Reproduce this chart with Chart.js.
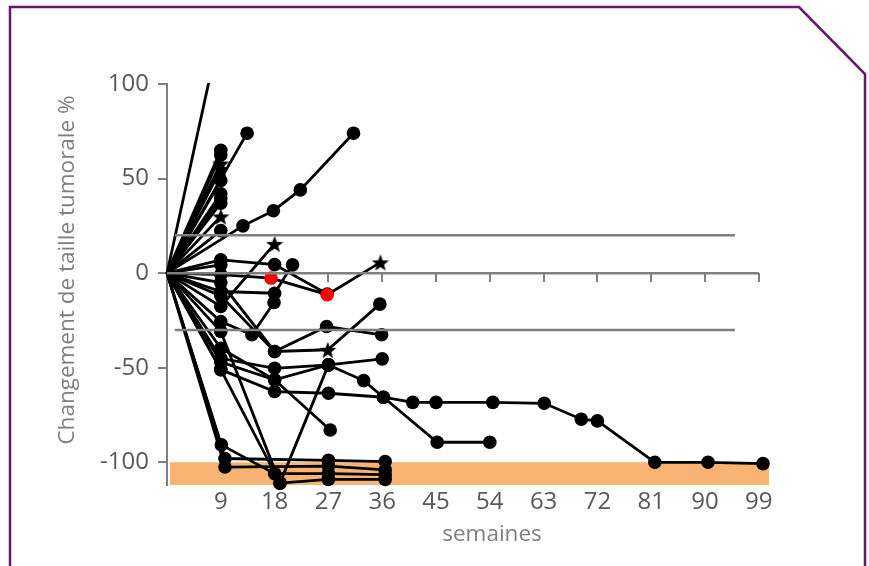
<!DOCTYPE html>
<html>
<head>
<meta charset="utf-8">
<script src="https://cdn.jsdelivr.net/npm/chart.js@4.4.0/dist/chart.umd.min.js"></script>
<style>
  html, body { margin: 0; padding: 0; background: #fff; }
  #wrap { width: 869px; height: 566px; }
</style>
</head>
<body>
<div id="wrap"><canvas id="spider"></canvas></div>
<script>
// semaines / changement de taille (%) par patient
const p01 = [[0, 0], [9, 130]];
const p02 = [[0, 0], [13.4, 74]];
const p03 = [[0, 0], [9, 65]];
const p04 = [[0, 0], [9, 62.5]];
const p05 = [[0, 0], [9, 58]];
const p06 = [[0, 0], [9, 55]];
const p07 = [[0, 0], [9, 49]];
const p08 = [[0, 0], [9, 42]];
const p09 = [[0, 0], [9, 39.5]];
const p10 = [[0, 0], [9, 37]];
const p11 = [[0, 0], [9, 30]];
const p12 = [[0, 0], [9, 22.5]];
const p13 = [[0, 0], [12.7, 25], [17.8, 33], [22.3, 44], [31.2, 74]];
const p14 = [[0, 0], [9, -17.6], [18, 15.5]];
const p15 = [[0, 0], [9, 7], [18, 4.5], [26.8, -11]];
const p16 = [[0, 0], [9, 4.4]];
const p17 = [[0, 0], [9, -0.8], [17.4, -2.6], [26.8, -11.4], [35.7, 5.7]];
const p18 = [[0, 0], [9, -9.7], [18, -10.6], [21, 4.4]];
const p19 = [[0, 0], [9, -25.6], [14.2, -32.6], [17.9, -15.5]];
const p20 = [[0, 0], [9, -5], [18, -41.4], [26.9, -40.5], [35.6, -16.4]];
const p21 = [[0, 0], [9, -12], [18, -41.4], [26.7, -28.2], [35.9, -32.6]];
const p22 = [[0, 0], [9, -30.8], [18.9, -111], [27, -48.5]];
const p23 = [[0, 0], [9, -45], [18, -50.3], [27, -48.5], [36, -45.3]];
const p24 = [[0, 0], [9, -39.7], [18, -56.4], [27.3, -82.9]];
const p25 = [[0, 0], [9, -47], [18, -56.4], [27, -48.5], [32.9, -56.8], [36.2, -65.6], [45.2, -89.4], [54, -89.4]];
const p26 = [[0, 0], [9, -51], [18, -62.6], [27, -63.5], [36.2, -65.6], [41.1, -68.3], [45, -68.3], [54.5, -68.3],
             [63.1, -68.8], [69.3, -77.2], [72, -78.1], [81.6, -100], [90.5, -100], [99.7, -100.7]];
const p27 = [[0, 0], [9, -51], [18.9, -111], [27, -109], [36.5, -109]];
const p28 = [[0, 0], [9.1, -90.8], [18, -106], [27, -106], [36.5, -106.5]];
const p29 = [[0, 0], [9.7, -98], [27, -99], [36.5, -99.6]];
const p30 = [[0, 0], [9.7, -102.5], [27, -102], [36.5, -104]];

// marqueurs particuliers (index du point dans la serie)
const starPoints = { p05: [1], p06: [1], p11: [1], p14: [2], p17: [4], p20: [3] };
const redPoints = { p17: [2, 3] };

// lignes de reference
const zeroLine = [[0, 0], [99, 0]];
const seuilProgression = [[1.3, 20], [95, 20]];
const seuilReponse = [[1.3, -30], [95, -30]];
const bandeRC = [[0.5, -100], [100.7, -100]];

const xTicks = [9, 18, 27, 36, 45, 54, 63, 72, 81, 90, 99];
const yTicks = [-100, -50, 0, 50, 100];

const patients = { p01, p02, p03, p04, p05, p06, p07, p08, p09, p10, p11, p12, p13, p14, p15,
                   p16, p17, p18, p19, p20, p21, p22, p23, p24, p25, p26, p27, p28, p29, p30 };

const toXY = arr => arr.map(([x, y]) => ({ x, y }));

function makeStar(size) {
  const c = document.createElement('canvas');
  c.width = c.height = size;
  const g = c.getContext('2d');
  g.beginPath();
  for (let i = 0; i < 10; i++) {
    const r = i % 2 ? size * 0.21 : size / 2;
    const a = -Math.PI / 2 + i * Math.PI / 5;
    const px = size / 2 + r * Math.cos(a);
    const py = size / 2 + 1 + r * Math.sin(a);
    i ? g.lineTo(px, py) : g.moveTo(px, py);
  }
  g.closePath();
  g.fillStyle = '#000';
  g.fill();
  return c;
}
const star = makeStar(18);

const gris = '#7f7f7f';

const datasets = Object.keys(patients).map(name => {
  const stars = starPoints[name] || [];
  const reds = redPoints[name] || [];
  return {
    label: name,
    data: toXY(patients[name]),
    showLine: true,
    borderColor: '#000',
    borderWidth: 2.8,
    backgroundColor: '#000',
    pointStyle: ctx => stars.includes(ctx.dataIndex) ? star : 'circle',
    pointRadius: ctx => ctx.dataIndex === 0 ? 0 : (stars.includes(ctx.dataIndex) ? 9 : 6.8),
    pointBackgroundColor: ctx => reds.includes(ctx.dataIndex) ? '#ff0000' : '#000',
    pointBorderColor: ctx => reds.includes(ctx.dataIndex) ? '#ff0000' : '#000',
    pointBorderWidth: 0,
    clip: name === 'p01' ? 1 : 10,
    order: reds.length ? 1 : 2
  };
});

const refLine = data => ({
  data: toXY(data),
  showLine: true,
  borderColor: gris,
  borderWidth: 2.5,
  pointRadius: 0,
  order: 0
});

datasets.push(refLine(zeroLine), refLine(seuilProgression), refLine(seuilReponse));
datasets.push({
  data: toXY(bandeRC),
  showLine: true,
  borderWidth: 0,
  pointRadius: 0,
  backgroundColor: '#f8b373',
  fill: 'start',
  order: 10
});

// cadre violet et titres des axes
const decor = {
  id: 'decor',
  beforeDraw(chart) {
    const ctx = chart.ctx;
    ctx.save();
    ctx.fillStyle = '#fff';
    ctx.fillRect(0, 0, chart.width, chart.height);
    ctx.strokeStyle = '#6a1470';
    ctx.lineWidth = 2.5;
    ctx.beginPath();
    ctx.moveTo(10, 570);
    ctx.lineTo(10, 7);
    ctx.lineTo(799, 7);
    ctx.lineTo(865, 74);
    ctx.lineTo(865, 570);
    ctx.stroke();
    ctx.restore();
  },
  afterDraw(chart) {
    const ctx = chart.ctx;
    ctx.save();
    ctx.fillStyle = gris;
    ctx.font = '22.5px "Open Sans"';
    ctx.textAlign = 'center';
    ctx.textBaseline = 'middle';
    ctx.fillText('semaines', 492, 535);
    ctx.translate(68, 270);
    ctx.rotate(-Math.PI / 2);
    ctx.fillText('Changement de taille tumorale %', 0, 0);
    ctx.restore();
  }
};

new Chart(document.getElementById('spider'), {
  type: 'scatter',
  data: { datasets },
  options: {
    responsive: true,
    maintainAspectRatio: false,
    animation: false,
    layout: { padding: { top: 84, right: 100, bottom: 0, left: 0 } },
    plugins: { legend: { display: false }, tooltip: { enabled: false } },
    scales: {
      x: {
        type: 'linear',
        position: 'bottom',
        min: 0,
        max: 100.7,
        afterFit: s => { s.height = 81; },
        afterBuildTicks: s => { s.ticks = xTicks.map(v => ({ value: v })); },
        border: { display: false },
        grid: { display: false, drawTicks: false },
        ticks: {
          padding: 3,
          color: '#595959',
          font: { family: 'Open Sans', size: 24 },
          maxRotation: 0,
          autoSkip: false
        }
      },
      x0: {
        type: 'linear',
        axis: 'x',
        position: { y: 0 },
        min: 0,
        max: 100.7,
        afterBuildTicks: s => { s.ticks = [0].concat(xTicks).map(v => ({ value: v })); },
        border: { display: false },
        grid: { display: true, drawOnChartArea: false, drawTicks: true, tickLength: 9, color: gris, lineWidth: 2 },
        ticks: { display: false }
      },
      y: {
        type: 'linear',
        min: -112,
        max: 100,
        afterFit: s => { s.width = 167; },
        afterBuildTicks: s => { s.ticks = yTicks.map(v => ({ value: v })); },
        border: { display: true, color: gris, width: 2 },
        grid: { display: true, drawOnChartArea: false, drawTicks: true, tickLength: 9, color: gris, lineWidth: 2 },
        ticks: {
          padding: 9,
          color: '#595959',
          font: { family: 'Open Sans', size: 24 }
        }
      }
    }
  },
  plugins: [decor]
});
</script>
</body>
</html>
